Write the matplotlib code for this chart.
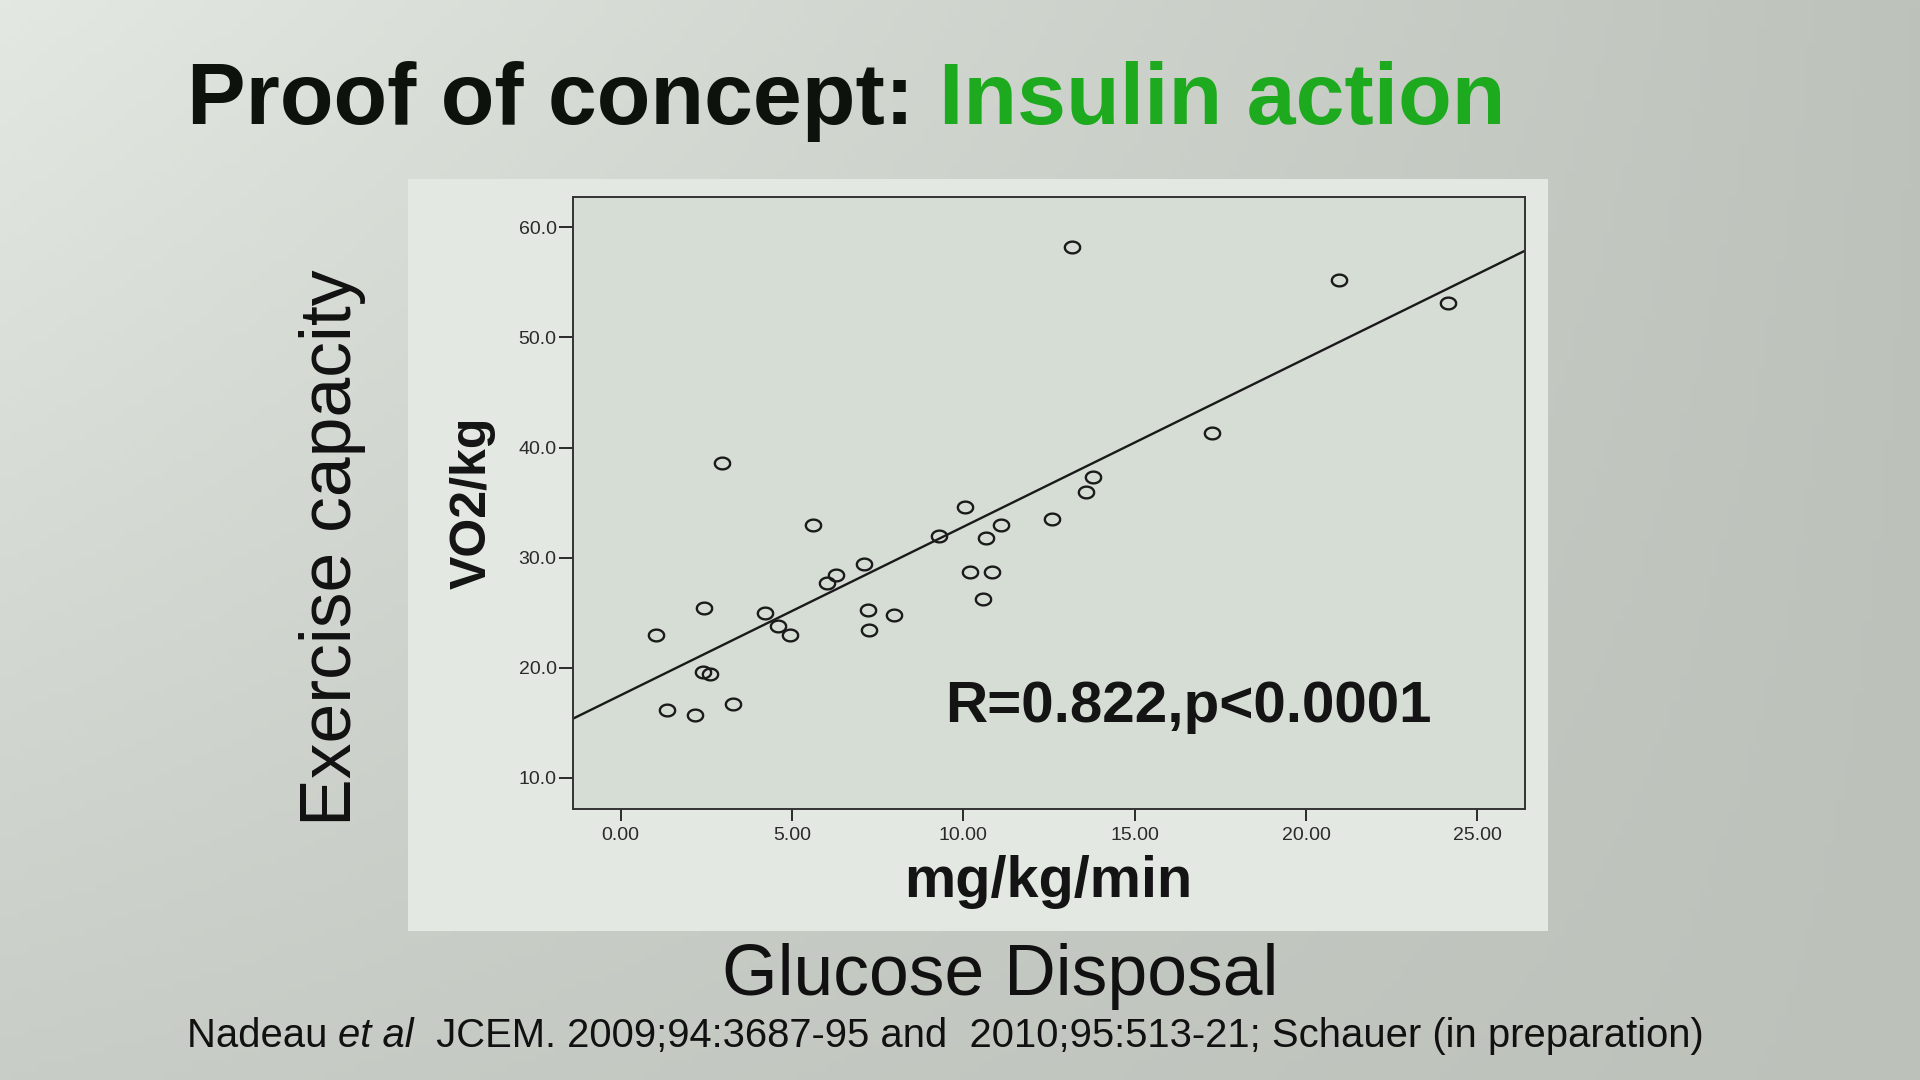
import numpy as np
import matplotlib as mpl
mpl.use('Agg')
import matplotlib.pyplot as plt
import matplotlib.path as mpath
from matplotlib.patches import Rectangle

########################## DATA ##########################

glucose_disposal = [1.02, 1.36, 2.17, 2.39, 2.61, 2.42, 2.95, 3.27, 4.21, 4.60,
                    4.94, 5.60, 6.01, 6.30, 7.10, 7.22, 7.25, 7.99, 9.29, 10.05,
                    10.21, 10.58, 10.65, 10.83, 11.09, 12.60, 13.16, 13.59, 13.78,
                    17.25, 20.97, 24.15]
vo2_kg = [23.0, 16.2, 15.7, 19.6, 19.4, 25.4, 38.6, 16.7, 25.0, 23.8,
          23.0, 33.0, 27.7, 28.4, 29.4, 25.2, 23.4, 24.8, 32.0, 34.6,
          28.7, 26.2, 31.8, 28.7, 33.0, 33.5, 58.2, 36.0, 37.3,
          41.3, 55.2, 53.1]

fit_intercept = 17.5
fit_slope = 1.53

xticks = [0, 5, 10, 15, 20, 25]
yticks = [10, 20, 30, 40, 50, 60]
xlim = (-1.38, 26.39)
ylim = (7.17, 62.78)

title_black = 'Proof of concept: '
title_green = 'Insulin action'
stat_text = 'R=0.822,p<0.0001'
footnote = ['Nadeau ', 'et al', '  JCEM. 2009;94:3687-95 and  2010;95:513-21; Schauer (in preparation)']

######################### PLOT ###########################

W, H = 1920, 1080
plt.rcParams['font.family'] = ['Liberation Sans', 'DejaVu Sans']
fig = plt.figure(figsize=(W / 100, H / 100), dpi=100)

def fx(px):
    return px / W

def fy(py):
    return 1 - py / H

# slide background gradient
bg = fig.add_axes([0, 0, 1, 1], zorder=-10)
u = np.linspace(0, 1, 200)[None, :, None]
v = np.linspace(0, 1, 120)[:, None, None]
tl = np.array([0xe3, 0xe8, 0xe2]) / 255
tr = np.array([0xbd, 0xc3, 0xbb]) / 255
bl = np.array([0xc8, 0xcd, 0xc7]) / 255
br = np.array([0xbc, 0xc1, 0xba]) / 255
grad = (1 - v) * ((1 - u) * tl + u * tr) + v * ((1 - u) * bl + u * br)
bg.imshow(grad, extent=[0, 1, 0, 1], aspect='auto', origin='upper')
bg.axis('off')

# light panel behind the chart
fig.patches.append(Rectangle((fx(408), fy(931)), fx(1140), 752 / H,
                             transform=fig.transFigure, facecolor='#e3e8e2',
                             edgecolor='none', zorder=-5))

ax = fig.add_axes([fx(573.3), fy(809), fx(1525 - 573.3), (809 - 196.7) / H])
ax.set_facecolor('#d6ddd5')

theta = np.linspace(0, 2 * np.pi, 60)
ellipse = mpath.Path(np.column_stack([1.3 * np.cos(theta), np.sin(theta)]))

ax.plot(glucose_disposal, vo2_kg, linestyle='none', marker=ellipse,
        markersize=11, markerfacecolor='none', markeredgecolor='#1a1a1a',
        markeredgewidth=1.7)

line_x = np.array(xlim)
ax.plot(line_x, fit_intercept + fit_slope * line_x, color='#1a1a1a', lw=1.7)

ax.set_xlim(*xlim)
ax.set_ylim(*ylim)
ax.set_xticks(xticks)
ax.set_xticklabels(['%.2f' % t for t in xticks])
ax.set_yticks(yticks)
ax.set_yticklabels(['%.1f' % t for t in yticks])
for s in ax.spines.values():
    s.set_linewidth(1.4)
    s.set_color('#333333')
ax.tick_params(axis='y', direction='out', length=10, width=1.4, pad=2,
               labelsize=14, colors='#2a2a2a')
ax.tick_params(axis='x', direction='out', length=8.6, width=1.4, pad=4,
               labelsize=14, colors='#2a2a2a')

ax.text(fx(1188), fy(707), stat_text, transform=fig.transFigure, ha='center',
        va='center', fontsize=42, fontweight='bold', color='#141414')

fig.text(fx(473), fy(503), 'VO2/kg', rotation=90, ha='center', va='center',
         fontsize=36, fontweight='bold', color='#141414')
fig.text(fx(1048), fy(882), 'mg/kg/min', ha='center', va='center',
         fontsize=41.5, fontweight='bold', color='#141414')

fig.text(fx(332), fy(548), 'Exercise capacity', rotation=90, ha='center',
         va='center', fontsize=51.5, color='#111111')
fig.text(fx(1000), fy(977), 'Glucose Disposal', ha='center', va='center',
         fontsize=51.5, color='#111111')

# title in two colours
renderer = fig.canvas.get_renderer()
t1 = fig.text(fx(187), fy(124), title_black, ha='left', va='baseline',
              fontsize=63.3, fontweight='bold', color='#0d120d')
x_end = t1.get_window_extent(renderer).x1
fig.text(x_end / W, fy(124), title_green, ha='left', va='baseline',
         fontsize=63.3, fontweight='bold', color='#1eaa1e')

# footnote with italic part
x_pos = 187
for i, part in enumerate(footnote):
    t = fig.text(x_pos / W, fy(1047), part, ha='left', va='baseline',
                 fontsize=28.8, color='#111111',
                 fontstyle='italic' if i == 1 else 'normal')
    x_pos = t.get_window_extent(renderer).x1

fig.savefig('out.png', dpi=100)
